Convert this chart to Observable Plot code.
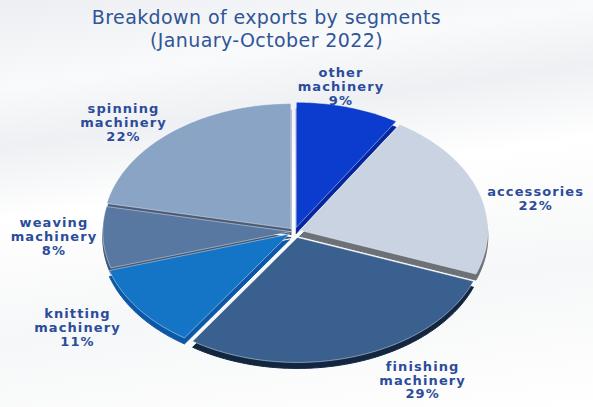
<!DOCTYPE html>
<html><head><meta charset="utf-8">
<script src="https://cdn.jsdelivr.net/npm/d3@7"></script>
<script src="https://cdn.jsdelivr.net/npm/@observablehq/plot@0.6"></script>
<style>
html,body{margin:0;padding:0;}
body{width:593px;height:407px;overflow:hidden;
  background:linear-gradient(172deg,#eceef2 0%,#f9fafb 18%,#eef0f3 30%,#ffffff 45%,#f6f7f8 70%,#ffffff 100%);}
#title{height:54px;box-sizing:border-box;padding-top:6px;padding-right:60px;text-align:center;
  font-family:"DejaVu Sans",sans-serif;font-size:19px;letter-spacing:0.4px;line-height:23px;color:#2f5597;}
#chart svg{display:block;}
</style></head><body>
<div id="title">Breakdown of exports by segments<br>(January-October 2022)</div>
<div id="chart"></div>
<script>
// ---- data ----
const categories = ["other machinery","accessories","finishing machinery","knitting machinery","weaving machinery","spinning machinery"];
const shares = [9, 22, 29, 11, 8, 22];
const labelLines = [["other","machinery"],["accessories"],["finishing","machinery"],["knitting","machinery"],["weaving","machinery"],["spinning","machinery"]];

// ---- styles / layout ----
const topColors  = ["#0b3ccd","#c9d3e1","#3a6090","#1474c6","#5878a2","#89a4c5"];
const sideColors = ["#0626a0","#6c7077","#132640","#0b58a6","#3c5472","#4a5c78"];
const explode    = [0.035, 0.03, 0.05, 0.035, 0.02, 0.03];
const labelRadius = [1.185, 1.31, 1.37, 1.385, 1.28, 1.26];
const labelTurn   = [-4, 7, -12, 3, 1, -7];
const cx = 294, cy = 177, rx = 188, ry = 125;

const rad = Math.PI / 180;
const arcs = d3.pie().sort(null).value(d => d)(shares);
const rows = [];
const labels = [];
arcs.forEach((p, i) => {
  const mid = (p.startAngle + p.endAngle) / 2;
  const ox = explode[i] * Math.sin(mid), oy = explode[i] * Math.cos(mid);
  const n = Math.max(2, Math.ceil((p.endAngle - p.startAngle) / rad));
  rows.push({i, x: ox, y: oy});
  for (let k = 0; k <= n; k++) {
    const a = p.startAngle + (p.endAngle - p.startAngle) * k / n;
    rows.push({i, x: ox + Math.sin(a), y: oy + Math.cos(a)});
  }
  rows.push({i, x: ox, y: oy});
  const la = mid + labelTurn[i] * rad;
  labels.push({
    x: labelRadius[i] * Math.sin(la),
    y: labelRadius[i] * Math.cos(la),
    text: [...labelLines[i], shares[i] + "%"].join("\n")
  });
});

const chart = Plot.plot({
  width: 593, height: 353, margin: 0,
  style: {background: "transparent", overflow: "visible"},
  x: {domain: [-1, 1], range: [cx - rx, cx + rx], axis: null},
  y: {domain: [-1, 1], range: [cy + ry, cy - ry], axis: null},
  color: {type: "identity"},
  marks: [
    Plot.line(rows, {x: "x", y: "y", z: "i", fill: d => sideColors[d.i], stroke: d => sideColors[d.i], strokeWidth: 1, dy: 6}),
    Plot.line(rows, {x: "x", y: "y", z: "i", fill: d => topColors[d.i], stroke: "white", strokeOpacity: 0.55, strokeWidth: 0.8}),
    Plot.text(labels, {x: "x", y: "y", text: "text", lineAnchor: "middle", lineHeight: 1.07,
      fontSize: 13, fontWeight: "bold", fontFamily: "DejaVu Sans", fill: "#2b4c9b"})
  ]
});
d3.select(chart).selectAll("text").attr("letter-spacing", "1.1px");
document.getElementById("chart").appendChild(chart);
</script>
</body></html>
